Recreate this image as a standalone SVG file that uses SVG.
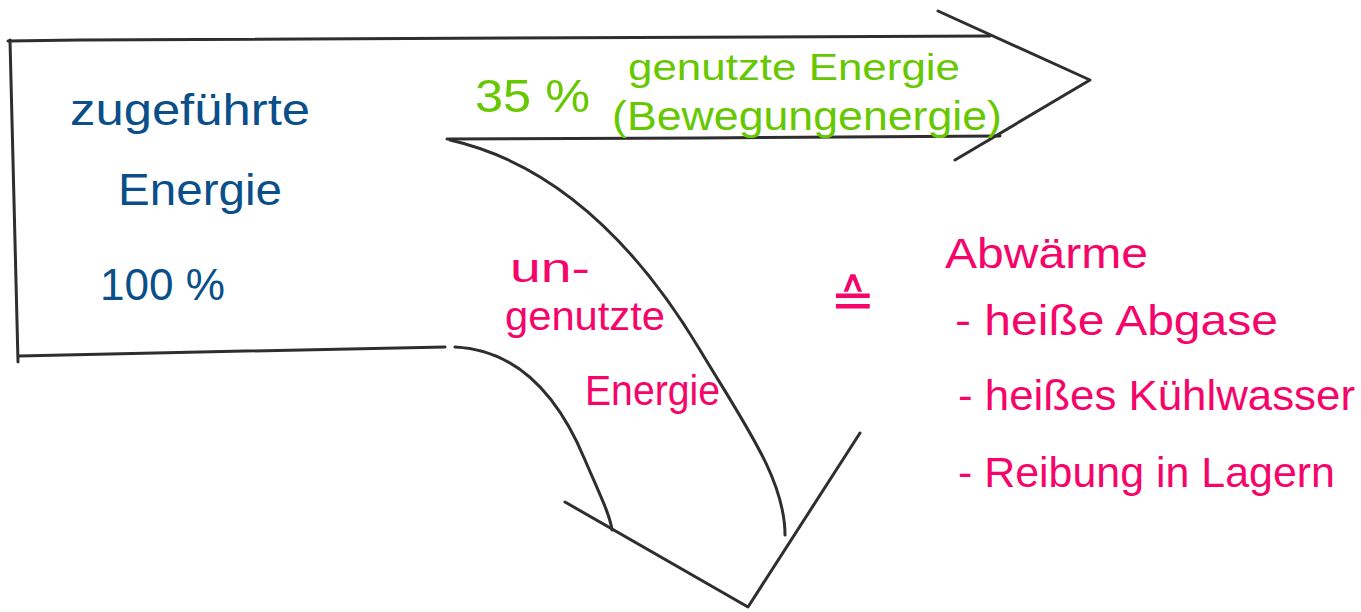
<svg xmlns="http://www.w3.org/2000/svg" width="1361" height="612" viewBox="0 0 1361 612">
<style>
.ln{fill:none;stroke:#2e2e2e;stroke-width:3;stroke-linecap:round;stroke-linejoin:round}
.t{font-family:"Liberation Sans","DejaVu Sans",sans-serif}
.blue{fill:#0a4f8a}
.green{fill:#66c800}
.pink{fill:#f5056a}
</style>
<rect width="1361" height="612" fill="#ffffff"/>
<g id="connectors">
<path class="ln" d="M8,41 L80,40 L990,36"/>
<path class="ln" d="M10,40 L18,362"/>
<path class="ln" d="M19,356 L200,352 L445,347"/>
<path class="ln" d="M447,139 L700,138 L1000,136"/>
<path class="ln" d="M938,11 L1090,80 L955,160"/>
<path class="ln" d="M450,140 C560,165 640,250 700,350 C745,425 785,480 785,535"/>
<path class="ln" d="M455,347 C520,350 560,400 585,460 C600,495 610,515 612,530"/>
<path class="ln" d="M565,502 L748,607 L860,433"/>
</g>
<g id="input">
<text class="t blue" x="70" y="125" font-size="44" textLength="240" lengthAdjust="spacingAndGlyphs">zugeführte</text>
<text class="t blue" x="118" y="205" font-size="44" textLength="164" lengthAdjust="spacingAndGlyphs">Energie</text>
<text class="t blue" x="100" y="300" font-size="44" textLength="125" lengthAdjust="spacingAndGlyphs">100 %</text>
</g>
<g id="used">
<text class="t green" x="475" y="112" font-size="46" textLength="115" lengthAdjust="spacingAndGlyphs">35 %</text>
<text class="t green" x="628" y="80" font-size="36" textLength="332" lengthAdjust="spacingAndGlyphs">genutzte Energie</text>
<text class="t green" x="612" y="130" font-size="40" textLength="390" lengthAdjust="spacingAndGlyphs">(Bewegungenergie)</text>
</g>
<g id="unused">
<text class="t pink" x="510" y="282" font-size="40" textLength="80" lengthAdjust="spacingAndGlyphs">un-</text>
<text class="t pink" x="505" y="330" font-size="40" textLength="160" lengthAdjust="spacingAndGlyphs">genutzte</text>
<text class="t pink" x="585" y="405" font-size="42" textLength="135" lengthAdjust="spacingAndGlyphs">Energie</text>
</g>
<g id="equiv">
<text class="t pink" x="830" y="318" font-size="54">≙</text>
</g>
<g id="waste">
<text class="t pink" x="945" y="268" font-size="42" textLength="203" lengthAdjust="spacingAndGlyphs">Abwärme</text>
<text class="t pink" x="955" y="335" font-size="42" textLength="323" lengthAdjust="spacingAndGlyphs">- heiße Abgase</text>
<text class="t pink" x="958" y="410" font-size="42" textLength="397" lengthAdjust="spacingAndGlyphs">- heißes Kühlwasser</text>
<text class="t pink" x="958" y="487" font-size="42" textLength="377" lengthAdjust="spacingAndGlyphs">- Reibung in Lagern</text>
</g>
</svg>
